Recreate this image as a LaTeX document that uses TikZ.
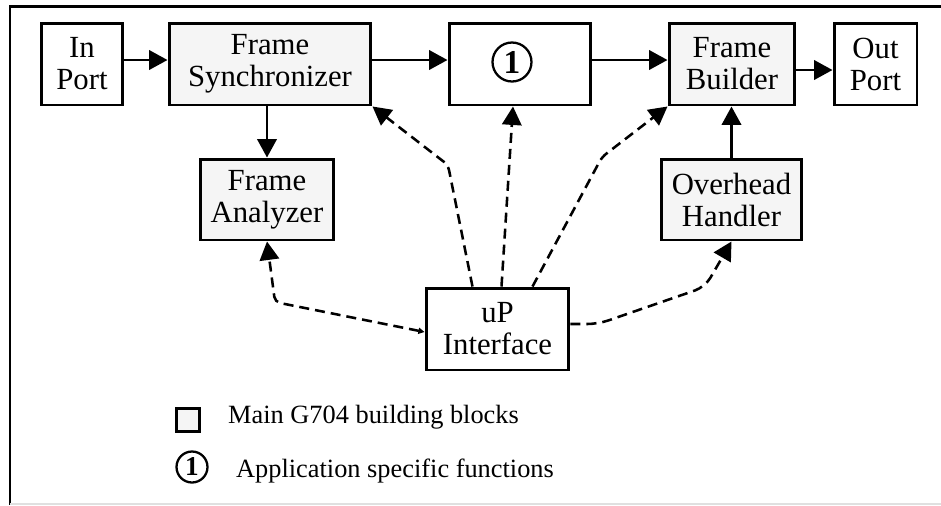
\documentclass[tikz,border=0pt]{standalone}
\usepackage{fontspec}
\setmainfont{Liberation Serif}
\usepackage{xcolor}
\usepackage{tikz}
\usetikzlibrary{positioning,calc,arrows.meta}

\definecolor{blockgray}{RGB}{245,245,245}

\tikzset{
    block/.style={draw, line width=1.7pt, align=center, inner sep=0pt, minimum height=1.64cm, font=\fontsize{17.5}{18.2}\selectfont},
    gblock/.style={block, fill=blockgray},
    flow/.style={line width=1.6pt, -{Triangle[length=10.5pt,width=11pt]}},
    ctrl/.style={line width=1.45pt, dash pattern=on 5.7pt off 3.4pt, rounded corners=3pt, -{Triangle[length=10.5pt,width=11pt]}},
    numcirc/.style={draw, circle, line width=1.3pt, inner sep=0pt}
}

\begin{document}
\begin{tikzpicture}[x=0.02cm, y=-0.02cm]
    \useasboundingbox (0,0) rectangle (941,505);
    % frame
    \draw[line width=1.7pt] (10,505) -- (10,6) -- (941,6);
    \draw[black!12, line width=0.8pt] (10,504) -- (941,504);

    % Top row: data path
    \node[block, minimum width=1.64cm] (inport) at (82,64) {In\\Port};
    \node[gblock, minimum width=4.04cm] (fsync) at (270,64) {Frame\\Synchronizer};
    \node[block, minimum width=2.84cm] (appfn) at (520,64) {};
    \node[numcirc, minimum size=0.78cm, font=\fontsize{19}{19}\selectfont\bfseries] (appnum) at (512,62) {1};
    \node[gblock, minimum width=2.52cm] (fbuild) at (732,64) {Frame\\Builder};
    \node[block, minimum width=1.66cm] (outport) at (875.5,64) {Out\\Port};

    % Second row
    \node[gblock, minimum width=2.68cm, minimum height=1.62cm] (fana) at (267,199.5) {Frame\\Analyzer};
    \node[gblock, minimum width=2.82cm, minimum height=1.62cm] (ohand) at (731.5,199.5) {Overhead\\Handler};

    % Processor interface
    \node[block, minimum width=2.86cm] (upif) at (497.5,329) {uP\\Interface};

    % Solid arrows
    \draw[flow] ($(inport.east)+(0,-4)$) -- ($(fsync.west)+(0,-4)$);
    \draw[flow] ($(fsync.east)+(0,-4)$) -- ($(appfn.west)+(0,-4)$);
    \draw[flow] ($(appfn.east)+(0,-4)$) -- ($(fbuild.west)+(0,-4)$);
    \draw[flow] ($(fbuild.east)+(0,6)$) -- ($(outport.west)+(0,6)$);
    \draw[flow] (fana.north |- fsync.south) -- (fana.north);
    \draw[flow] (ohand.north) -- (ohand.north |- fbuild.south);

    % Dashed control lines
    \draw[ctrl] ($(upif.north)+(-25,0)$) -- (448,165) -- (fsync.south east);
    \draw[ctrl] ($(upif.north)+(4,0)$) -- ($(appfn.south)+(-7,0)$);
    \draw[ctrl] ($(upif.north)+(35,0)$) -- (602,157) -- (fbuild.south west);
    \draw[ctrl, {Triangle[length=3.5pt,width=3.5pt]}-{Triangle[length=10.5pt,width=11pt]}] ($(upif.west)+(0,3)$) -- (275,302) -- (fana.south);
    \draw[ctrl, rounded corners=6pt] ($(upif.east)+(0,-5)$) -- (598,324) -- (705,287) -- (ohand.south);

    % Legend
    \node[draw, line width=1.4pt, fill=blockgray, minimum size=0.46cm, inner sep=0pt] (keyblock) at (188,420) {};
    \node[anchor=base west, font=\fontsize{15}{18}\selectfont] (keyblocktxt) at (222,423) {Main G704 building blocks};
    \node[numcirc, minimum size=0.62cm, font=\fontsize{15.5}{16}\selectfont\bfseries] (keynum) at (192,467) {1};
    \node[anchor=base west, font=\fontsize{15}{18}\selectfont] (keynumtxt) at (230,477) {Application specific functions};
\end{tikzpicture}
\end{document}
